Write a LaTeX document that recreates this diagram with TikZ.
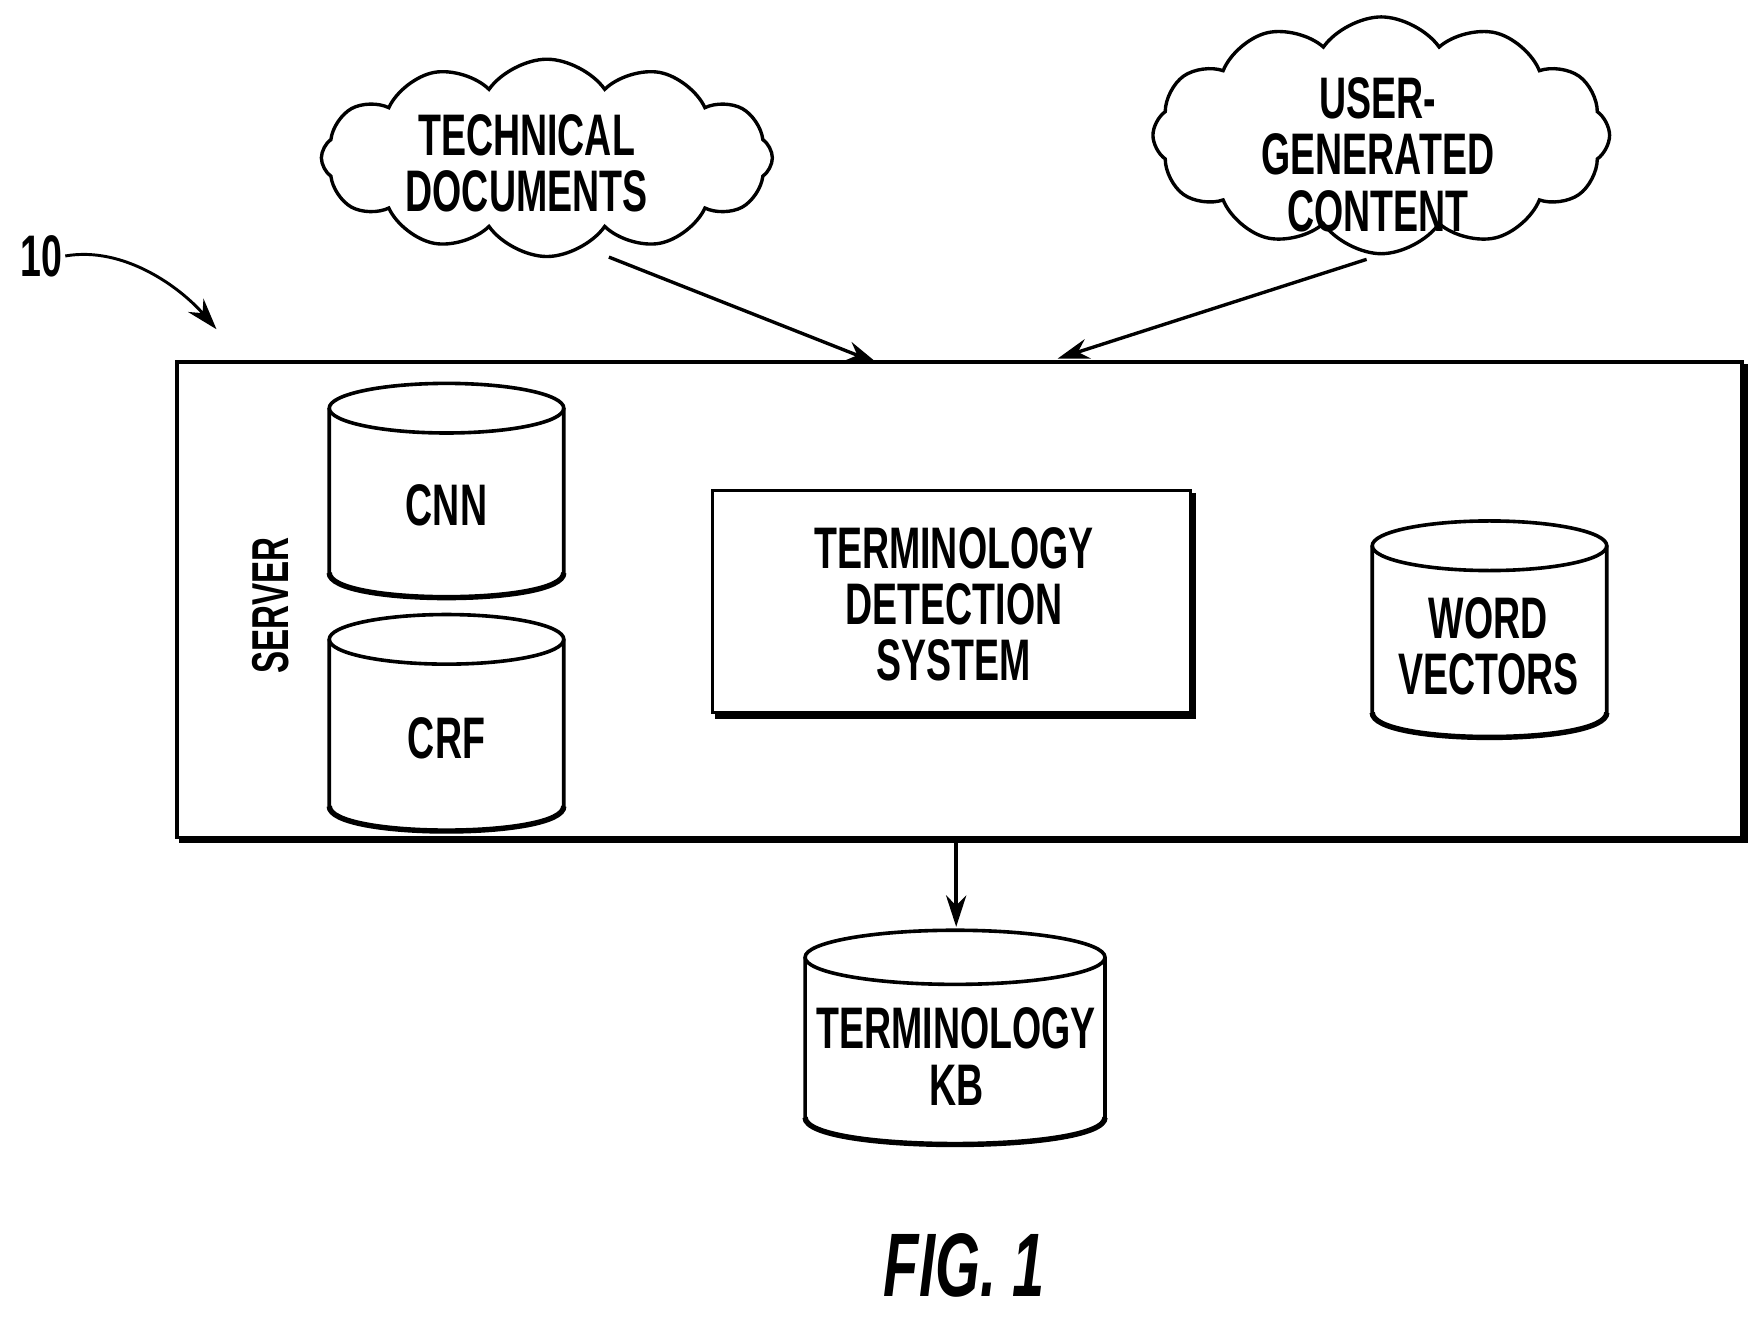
\documentclass[tikz,border=0pt]{standalone}
\usepackage{fontspec}
\setmainfont{Liberation Sans}[FakeStretch=0.64]
\usetikzlibrary{shapes.symbols,arrows.meta}
\newcommand\mycyl[6]{%
 \draw[line width=1.6pt] (#2,#3-#5/2+#6) ellipse [x radius=#4/2, y radius=#6];
 \draw[line width=1.6pt] (#2-#4/2,#3-#5/2+#6) -- (#2-#4/2,#3+#5/2-#6)
   .. controls (#2-#4/2,#3+#5/2+#6/3) and (#2+#4/2,#3+#5/2+#6/3) .. (#2+#4/2,#3+#5/2-#6) -- (#2+#4/2,#3-#5/2+#6);
 \draw[line width=2.4pt] (#2-#4/2,#3+#5/2-#6)
   .. controls (#2-#4/2,#3+#5/2+#6/3) and (#2+#4/2,#3+#5/2+#6/3) .. (#2+#4/2,#3+#5/2-#6);
}
\tikzset{lbl/.style={font=\fontsize{26}{25}\selectfont\bfseries,align=center,inner sep=1pt},
 arr/.style={line width=1.5pt,-{Stealth[length=14pt,width=9pt]}}}
\begin{document}
\begin{tikzpicture}[x=0.5pt,y=-0.5pt]
\useasboundingbox (0,0) rectangle (1560,1168);
% clouds
\node[cloud,cloud puffs=12,cloud puff arc=110,aspect=2.3,draw,line width=1.5pt,minimum width=400*0.5pt,minimum height=175*0.5pt,inner sep=0pt] (c1) at (485,140) {};
\node[lbl] (t1) at (467,145) {TECHNICAL\\DOCUMENTS};
\node[cloud,cloud puffs=12,cloud puff arc=110,aspect=1.9,draw,line width=1.5pt,minimum width=405*0.5pt,minimum height=210*0.5pt,inner sep=0pt] (c2) at (1225,120) {};
\node[lbl] (t2) at (1222,137) {USER-\\GENERATED\\CONTENT};
% server
\draw[line width=1.5pt] (157,321) rectangle (1545,743);
\draw[line width=3pt] (1547,323) -- (1547,745) -- (159,745);
\node[lbl,rotate=90,font=\fontsize{23}{23}\selectfont\bfseries] (srv) at (240,537) {SERVER};
\coordinate (s1) at (778,322);
\coordinate (s2) at (938,318);
\coordinate (sb) at (848,745);
% tds
\draw[line width=1.5pt] (632,435) rectangle (1056,632);
\draw[line width=3pt] (1058,437) -- (1058,635) -- (634,635);
\node[lbl] (tds) at (846,536) {TERMINOLOGY\\DETECTION\\SYSTEM};
% cylinders
\mycyl{cnn}{396}{435}{208}{190}{22}
\node[lbl] (cnn) at (396,448) {CNN};
\mycyl{crf}{396}{641}{208}{192}{22}
\node[lbl] (crf) at (396,655) {CRF};
\mycyl{wv}{1321}{558}{208}{192}{22}
\node[lbl] (wv) at (1320,573) {WORD\\VECTORS};
\mycyl{kb}{847}{920}{266}{190}{24}
\node[lbl] (kb) at (848,937) {TERMINOLOGY\\KB};
% arrows
\coordinate (a1) at (540,228);
\coordinate (a2) at (1212,230);
\draw[arr] (a1) -- (s1);
\draw[arr] (a2) -- (s2);
\draw[arr] (sb) -- (kb.north |- 0,822);
% 10
\node[lbl] (ten) at (37,227) {10};
\draw[arr,line width=1.3pt] (ten.east) .. controls (110,218) and (160,255) .. (192,292);
\node[font=\fontsize{40}{40}\selectfont\itshape\bfseries] (fig) at (855,1122) {FIG. 1};
\end{tikzpicture}
\end{document}
